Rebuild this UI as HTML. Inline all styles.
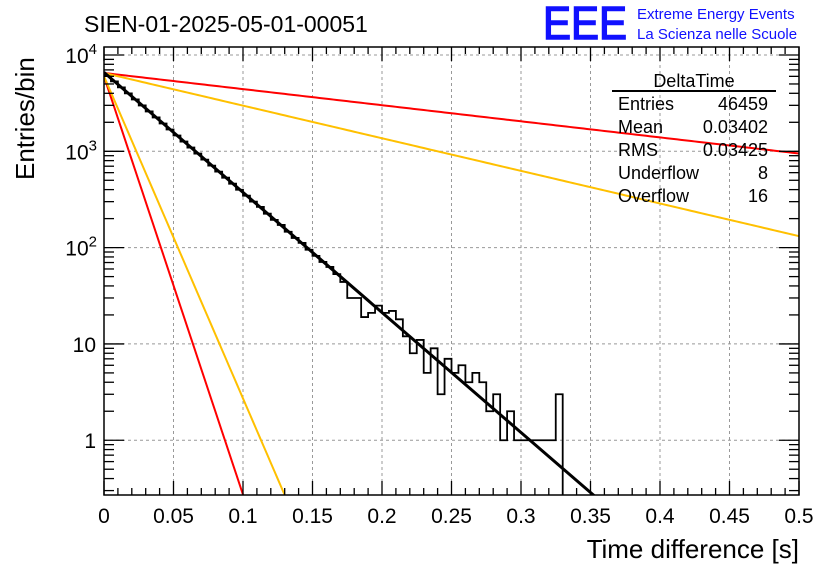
<!DOCTYPE html>
<html><head><meta charset="utf-8"><style>
body{margin:0;background:#fff;}
svg{display:block;font-family:"Liberation Sans",sans-serif;}
</style></head><body>
<svg id="c" width="836" height="572" viewBox="0 0 836 572">
<rect width="836" height="572" fill="#fff"/>
<text x="84" y="32" font-size="23">SIEN-01-2025-05-01-00051</text>
<text x="543" y="39" font-size="46" fill="#1010ff" stroke="#1010ff" stroke-width="1.5" textLength="84" lengthAdjust="spacingAndGlyphs">EEE</text>
<text x="637" y="19" font-size="15" fill="#1010ff">Extreme Energy Events</text>
<text x="637" y="39" font-size="15" fill="#1010ff">La Scienza nelle Scuole</text>
<g id="grid"></g>
<g id="marks"></g>
<g id="axes"></g>
<rect x="104" y="47" width="695" height="448" fill="none" stroke="#000" stroke-width="1.5"/>
<g font-size="18">
<text x="694" y="87" text-anchor="middle">DeltaTime</text>
<line x1="612" y1="91" x2="776" y2="91" stroke="#000" stroke-width="2"/>
<text x="618" y="110">Entries</text><text x="768" y="110" text-anchor="end">46459</text>
<text x="618" y="133">Mean</text><text x="768" y="133" text-anchor="end">0.03402</text>
<text x="618" y="156">RMS</text><text x="768" y="156" text-anchor="end">0.03425</text>
<text x="618" y="179">Underflow</text><text x="768" y="179" text-anchor="end">8</text>
<text x="618" y="202">Overflow</text><text x="768" y="202" text-anchor="end">16</text>
</g>
<text x="799" y="558" font-size="26" text-anchor="end">Time difference [s]</text>
<text transform="translate(34,180) rotate(-90)" font-size="26" text-anchor="start" x="0" y="0">Entries/bin</text>
</svg>
<script>
const binWidth = 0.005;
const counts = [6145,5322,4609,3991,3456,2993,2592,2245,1944,1683,1458,1262,1093,947,820,710,615,532,461,399,346,300,265,225,194,172,146,126,112,95,82,71,63,53,44,
30,30,19,21,25,21,22,18,12,8,11,5,9,3,7,5,6,4,5,4,2,3,1,2,1,1,1,1,1,1,3];
const fitA = 6600, fitRate = 28.7;
const fitLines = [
 {name:'red-shallow-line', a:6500, rate:3.85, color:'#ff0000'},
 {name:'yellow-shallow-line', a:6500, rate:7.8, color:'#ffc000'},
 {name:'red-steep-line', a:6000, rate:100, color:'#ff0000'},
 {name:'yellow-steep-line', a:6000, rate:77, color:'#ffc000'}
];
const xTicks = [0,0.05,0.1,0.15,0.2,0.25,0.3,0.35,0.4,0.45,0.5];
const xTickLabels = ['0','0.05','0.1','0.15','0.2','0.25','0.3','0.35','0.4','0.45','0.5'];
const yDecades = [1,10,100,1000,10000];

const X0=104,X1=799,Y0=495,Y1=47, YMIN=Math.log10(0.27), YMAX=Math.log10(12100);
const sx=v=>X0+(v/0.5)*(X1-X0);
const sy=v=>Y0-(Math.log10(v)-YMIN)/(YMAX-YMIN)*(Y0-Y1);
const NS='http://www.w3.org/2000/svg';
function mk(tag,attrs,parent){const e=document.createElementNS(NS,tag);for(const k in attrs)e.setAttribute(k,attrs[k]);parent.appendChild(e);return e;}
const grid=document.getElementById('grid'),marks=document.getElementById('marks'),axes=document.getElementById('axes');
xTicks.forEach((t,i)=>{if(i>0&&i<xTicks.length-1){const l=mk('line',{x1:sx(t),x2:sx(t),y1:Y1,y2:Y0,stroke:'#999','stroke-dasharray':'3,3'},grid);

}});
yDecades.forEach(d=>{const l=mk('line',{x1:X0,x2:X1,y1:sy(d),y2:sy(d),stroke:'#999','stroke-dasharray':'3,3'},grid);

});
const defs=mk('defs',{},marks);const cp=mk('clipPath',{id:'cp'},defs);mk('rect',{x:X0,y:Y1,width:X1-X0,height:Y0-Y1},cp);
let d='';
counts.forEach((c,i)=>{const xa=sx(i*binWidth),xb=sx((i+1)*binWidth),y=c>0?sy(c):Y0+5;
 d+=(i===0?`M${xa},${y}`:`L${xa},${y}`)+`L${xb},${y}`;});
d+=`L${sx(counts.length*binWidth)},${Y0+5}`;
const h=mk('path',{d:d,fill:'none',stroke:'#000','stroke-width':1.8,'clip-path':'url(#cp)'},marks);


function expPath(a,rate){let p='';for(let k=0;k<=200;k++){const x=0.5*k/200;const v=a*Math.exp(-rate*x);if(v<0.1)break;p+=(k?'L':'M')+sx(x)+','+sy(v);}return p;}
fitLines.forEach(f=>{const l=mk('path',{d:expPath(f.a,f.rate),fill:'none',stroke:f.color,'stroke-width':2,'clip-path':'url(#cp)'},marks);

});
const fl=mk('path',{d:expPath(fitA,fitRate),fill:'none',stroke:'#000','stroke-width':3,'clip-path':'url(#cp)'},marks);


for(let k=0;k<=50;k++){const x=sx(k*0.01);const len=k%5===0?14:7;
 mk('line',{x1:x,x2:x,y1:Y0,y2:Y0-len,stroke:'#000','stroke-width':1.3},axes);
 mk('line',{x1:x,x2:x,y1:Y1,y2:Y1+len,stroke:'#000','stroke-width':1.3},axes);}
xTicks.forEach((t,i)=>{const tx=mk('text',{x:sx(t),y:523,'font-size':21,'text-anchor':'middle'},axes);tx.textContent=xTickLabels[i];

});
for(let e=-1;e<=4;e++){for(let m=1;m<=9;m++){const v=m*Math.pow(10,e);const y=sy(v);if(y>Y0||y<Y1)continue;const len=m===1?20:10;
 mk('line',{x1:X0,x2:X0+len,y1:y,y2:y,stroke:'#000','stroke-width':1.3},axes);
 mk('line',{x1:X1,x2:X1-len,y1:y,y2:y,stroke:'#000','stroke-width':1.3},axes);}}
yDecades.forEach(dv=>{const y=sy(dv);let t;
 if(dv===1||dv===10){t=mk('text',{x:96,y:y+8,'font-size':21,'text-anchor':'end'},axes);t.textContent=String(dv);}
 else{t=mk('text',{x:96,y:y+8,'font-size':21,'text-anchor':'end'},axes);const e=Math.round(Math.log10(dv));
  const a=document.createElementNS(NS,'tspan');a.textContent='10';t.appendChild(a);
  const b=document.createElementNS(NS,'tspan');b.setAttribute('dy','-9');b.setAttribute('font-size','15');b.textContent=String(e);t.appendChild(b);
  t.setAttribute('x',97);}
 
 });
</script>
</body></html>
